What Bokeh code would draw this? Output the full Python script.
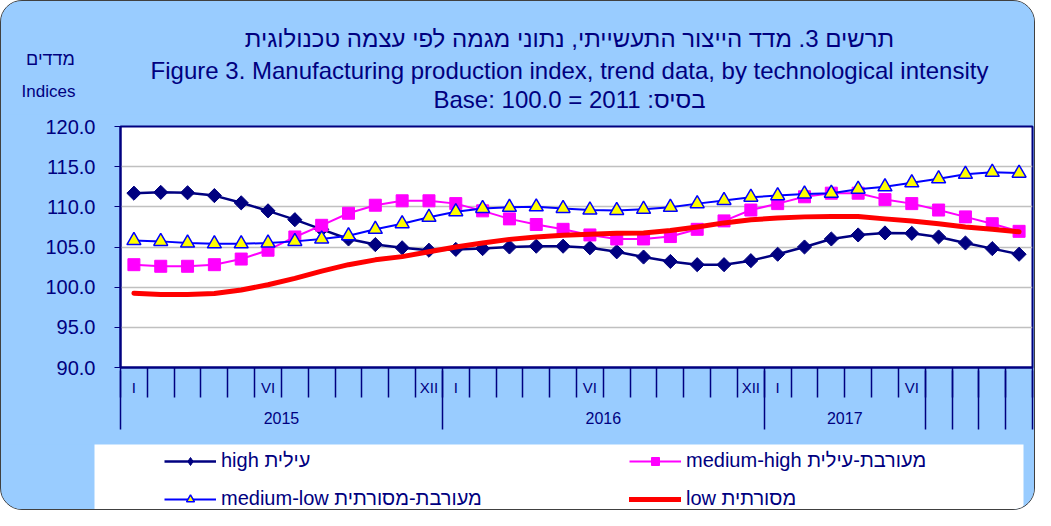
import numpy as np
from bokeh.plotting import figure
from bokeh.layouts import column
from bokeh.models import (Range1d, FixedTicker, LinearAxis, Label, Legend, LegendItem,
                          Grid, PrintfTickFormatter)
from bokeh.embed import file_html
from bokeh.resources import INLINE

# ---------------- data ----------------
roman = ["I", "II", "III", "IV", "V", "VI", "VII", "VIII", "IX", "X", "XI", "XII"]
months = roman * 2 + roman[:10]                      # 2015-I ... 2017-X
year_of_month = ["2015"] * 12 + ["2016"] * 12 + ["2017"] * 6 + [""] * 4
shown_months = ["I", "VI", "XII"]

high = [111.7, 111.8, 111.75, 111.4, 110.5, 109.5, 108.4, 107.2, 106.0, 105.3,
        104.9, 104.6, 104.7, 104.8, 105.0, 105.1, 105.1, 104.9, 104.4, 103.75,
        103.2, 102.8, 102.8, 103.3, 104.1, 105.0, 106.0, 106.5, 106.75, 106.7,
        106.25, 105.5, 104.8, 104.1]
medium_high = [102.8, 102.6, 102.6, 102.8, 103.5, 104.6, 106.25, 107.7, 109.2, 110.2,
               110.75, 110.75, 110.4, 109.5, 108.5, 107.8, 107.2, 106.5, 106.0, 106.0,
               106.3, 107.2, 108.25, 109.6, 110.4, 111.25, 111.7, 111.7, 110.9, 110.4,
               109.6, 108.75, 107.9, 106.95]
medium_low = [105.8, 105.7, 105.5, 105.4, 105.4, 105.5, 105.7, 106.0, 106.4, 107.2,
              107.9, 108.7, 109.4, 109.8, 109.95, 110.0, 109.8, 109.6, 109.55, 109.7,
              109.95, 110.4, 110.8, 111.2, 111.4, 111.6, 111.7, 112.2, 112.5, 113.0,
              113.5, 114.05, 114.3, 114.2]
low = [99.25, 99.1, 99.1, 99.2, 99.65, 100.3, 101.1, 102.0, 102.8, 103.4,
       103.8, 104.4, 105.0, 105.5, 105.95, 106.25, 106.45, 106.6, 106.7, 106.75,
       107.05, 107.5, 108.0, 108.4, 108.6, 108.75, 108.8, 108.8, 108.5, 108.25,
       107.9, 107.5, 107.2, 106.9]

y_ticks = [90, 95, 100, 105, 110, 115, 120]
grid_ticks = [95, 100, 105, 110, 115]

title_he = "תרשים 3. מדד הייצור התעשייתי, נתוני מגמה לפי עצמה טכנולוגית"
title_en = "Figure 3. Manufacturing production index, trend data, by technological intensity"
title_base = "Base: 100.0 = 2011 :בסיס"
ytitle_he = "מדדים"
ytitle_en = "Indices"
legend_labels = ["high עילית", "medium-high מעורבת-עילית",
                 "medium-low מעורבת-מסורתית", "low מסורתית"]

# ---------------- derived positions ----------------
n = len(months)
x = list(range(n))
month_ticks = [i for i in x if months[i] in shown_months]
month_over = {i: months[i] for i in month_ticks}
month_bounds = [i - 0.5 for i in range(n + 1)]

groups = []
start = 0
for i in range(1, n + 1):
    if i == n or year_of_month[i] != year_of_month[start]:
        groups.append((start, i - 1, year_of_month[start]))
        start = i
year_ticks, year_over, year_bounds = [], {}, [-0.5]
for a, b, lab in groups:
    if lab:
        c = (a + b) / 2.0
        year_ticks.append(c)
        year_over[c] = lab
        year_bounds.append(b + 0.5)
    else:
        year_bounds.extend([k + 0.5 for k in range(a, b + 1)])

FONT = "Liberation Sans"
NAVY = "#000080"
BG = "#99CCFF"
W = 1033
H_TOP, H_MAIN, H_BOT = 113, 330, 65

# ---------------- top: titles ----------------
pt = figure(width=W, height=H_TOP, x_range=Range1d(0, W), y_range=Range1d(0, H_TOP),
            output_backend="svg", toolbar_location=None, x_axis_type=None, y_axis_type=None,
            frame_align=False,
            min_border=0, min_border_left=0, min_border_right=0, min_border_top=0, min_border_bottom=0,
            background_fill_color=BG, border_fill_color=BG, outline_line_color=None)

def lab(txt, xx, yy, size):
    pt.add_layout(Label(x=xx, y=yy, text=txt, text_align="center", text_baseline="middle",
                        text_font=FONT, text_font_size=size, text_color=NAVY))

lab(title_he, 568, 76, "24px")
lab(title_en, 568, 44, "24px")
lab(title_base, 568, 15, "24px")
lab(ytitle_he, 49, 56, "18px")
lab(ytitle_en, 47, 23, "17px")

# ---------------- main chart ----------------
p = figure(width=W, height=H_MAIN, x_range=Range1d(-0.5, n - 0.5), y_range=Range1d(90, 120),
           output_backend="svg", toolbar_location=None, x_axis_type=None, y_axis_type=None,
           frame_align=False,
           min_border_left=119, min_border_right=2, min_border_top=12, min_border_bottom=77,
           background_fill_color="white", border_fill_color=BG,
           outline_line_color=NAVY, outline_line_width=2)

p.add_layout(Grid(dimension=1, ticker=FixedTicker(ticks=grid_ticks),
                  grid_line_color="#C0C0C0", grid_line_width=1.5))

yax = LinearAxis(ticker=FixedTicker(ticks=y_ticks), formatter=PrintfTickFormatter(format="%.1f"),
                 major_tick_out=6, major_tick_in=0, minor_tick_line_color=None,
                 major_tick_line_color=NAVY, axis_line_color=NAVY, axis_line_width=2,
                 major_label_standoff=19, major_label_text_font_size="20px",
                 major_label_text_color=NAVY, major_label_text_font=FONT)
p.add_layout(yax, "left")

xax1 = LinearAxis(ticker=FixedTicker(ticks=month_ticks, minor_ticks=month_bounds),
                  major_label_overrides=month_over,
                  major_tick_line_color=None, major_tick_out=0, major_tick_in=0,
                  minor_tick_out=30, minor_tick_in=0, minor_tick_line_color=NAVY,
                  minor_tick_line_width=1.5, axis_line_color=NAVY, axis_line_width=2,
                  major_label_standoff=-19, major_label_text_font_size="15px",
                  major_label_text_color=NAVY, major_label_text_font=FONT)
p.add_layout(xax1, "below")

xax2 = LinearAxis(ticker=FixedTicker(ticks=year_ticks, minor_ticks=year_bounds),
                  major_label_overrides=year_over,
                  major_tick_line_color=None, major_tick_out=0, major_tick_in=0,
                  minor_tick_out=31, minor_tick_in=28, minor_tick_line_color=NAVY,
                  minor_tick_line_width=1.5, axis_line_color=None,
                  major_label_standoff=-18, major_label_text_font_size="16px",
                  major_label_text_color=NAVY, major_label_text_font=FONT)
p.add_layout(xax2, "below")

STY = {
    "high": dict(line=dict(line_color=NAVY, line_width=2.5),
                 mark=dict(marker="square", angle=np.pi / 4, size=10, fill_color=NAVY, line_color=NAVY)),
    "mh": dict(line=dict(line_color="#FF00FF", line_width=2),
               mark=dict(marker="square", size=12, fill_color="#FF00FF", line_color="#FF00FF")),
    "ml": dict(line=dict(line_color="#0000FF", line_width=2),
               mark=dict(marker="triangle", size=14, fill_color="#FFFF00", line_color="#0000FF", line_width=1.5)),
    "low": dict(line=dict(line_color="#FF0000", line_width=5, line_cap="round")),
}
series = {"high": high, "mh": medium_high, "ml": medium_low, "low": low}

for key in ["high", "mh", "ml", "low"]:
    p.line(x, series[key], line_join="round", **STY[key]["line"])
    if "mark" in STY[key]:
        p.scatter(x, series[key], **STY[key]["mark"])

# ---------------- bottom: legend box ----------------
# x range far from the data, so the proxy renderers only show in the legend
pb = figure(width=W, height=H_BOT, x_range=Range1d(1000, 1001), y_range=Range1d(0, 1),
            output_backend="svg", toolbar_location=None, x_axis_type=None, y_axis_type=None,
            frame_align=False,
            min_border_left=93, min_border_right=11, min_border_top=0, min_border_bottom=0,
            background_fill_color="white", border_fill_color=BG, outline_line_color=None)

lk = {}
for key in ["high", "mh", "ml", "low"]:
    rs = [pb.line(x, series[key], **STY[key]["line"])]
    if "mark" in STY[key]:
        m = dict(STY[key]["mark"])
        if key == "high":
            m.update(marker="diamond", angle=0, size=14)
        rs.append(pb.scatter(x, series[key], **m))
    lk[key] = rs

items = [LegendItem(label=legend_labels[0], renderers=lk["high"]),
         LegendItem(label=legend_labels[2], renderers=lk["ml"]),
         LegendItem(label=legend_labels[1], renderers=lk["mh"]),
         LegendItem(label=legend_labels[3], renderers=lk["low"])]
leg = Legend(items=items, ncols=2, location=(70, -1), padding=0, margin=0,
             glyph_width=52, glyph_height=20, label_height=20, label_standoff=5,
             label_width=393, spacing=15, background_fill_alpha=0, border_line_alpha=0,
             label_text_font=FONT, label_text_font_size="20px", label_text_color=NAVY)
pb.add_layout(leg)

layout = column(pt, p, pb, spacing=0,
                styles={"border": "1px solid #404040", "border-radius": "22px",
                        "overflow": "hidden", "background-color": BG})

open("out.html", "w").write(file_html(layout, INLINE))
